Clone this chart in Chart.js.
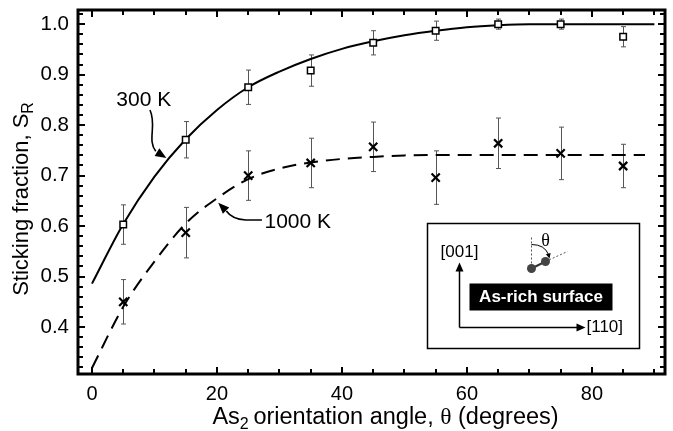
<!DOCTYPE html>
<html>
<head>
<meta charset="utf-8">
<script src="https://cdn.jsdelivr.net/npm/chart.js@4.4.1/dist/chart.umd.min.js"></script>
<style>
  html, body { margin: 0; padding: 0; background: #fff; }
  #wrap { width: 673px; height: 431px; }
</style>
</head>
<body>
<div id="wrap"><canvas id="grafica"></canvas></div>
<script>
// measured points (angle in degrees) with their error bars
const angles = [5, 15, 25, 35, 45, 55, 65, 75, 85];
const stick300 = [0.603, 0.771, 0.875, 0.908, 0.963, 0.987, 1.000, 1.000, 0.975];
const err300 = [0.039, 0.036, 0.034, 0.031, 0.024, 0.019, 0.010, 0.010, 0.020];
const stick1000 = [0.450, 0.587, 0.700, 0.725, 0.757, 0.696, 0.764, 0.744, 0.719];
const err1000 = [0.044, 0.050, 0.049, 0.049, 0.049, 0.053, 0.050, 0.052, 0.043];

// fitted curves
const fitAngles300 = [0, 5, 10, 15, 20, 25, 30, 35, 40, 45, 50, 55, 60, 65, 70, 75, 80, 85, 90];
const fit300 = [0.486, 0.604, 0.698, 0.772, 0.830, 0.875, 0.906, 0.931, 0.951, 0.966, 0.978, 0.987, 0.994, 0.998, 1.0, 1.0, 1.0, 1.0, 1.0];
const fitAngles1000 = [0, 5, 10, 15, 20, 25, 30, 35, 40, 45, 50, 55, 60, 65, 70, 75, 80, 85, 88.5];
const fit1000 = [0.319, 0.440, 0.530, 0.605, 0.655, 0.693, 0.714, 0.726, 0.733, 0.737, 0.740, 0.741, 0.741, 0.741, 0.741, 0.741, 0.741, 0.741, 0.741];

const xTickLabels = [0, 20, 40, 60, 80];
const yTickLabels = [0.4, 0.5, 0.6, 0.7, 0.8, 0.9, 1.0];

const FONT = '"Liberation Sans", Arial, Helvetica, sans-serif';

const pts = (xs, ys) => xs.map((x, i) => ({ x: x, y: ys[i] }));
const isYLabel = v => yTickLabels.some(t => Math.abs(t - v) < 1e-6);

function arrowHead(ctx, x, y, ang, len, half) {
  ctx.beginPath();
  ctx.moveTo(x, y);
  ctx.lineTo(x - len * Math.cos(ang) + half * Math.sin(ang), y - len * Math.sin(ang) - half * Math.cos(ang));
  ctx.lineTo(x - len * Math.cos(ang) - half * Math.sin(ang), y - len * Math.sin(ang) + half * Math.cos(ang));
  ctx.closePath();
  ctx.fill();
}

const decor = {
  id: 'decor',
  beforeDatasetsDraw(chart) {
    const ctx = chart.ctx, sx = chart.scales.x, sy = chart.scales.y;
    ctx.save();
    ctx.strokeStyle = '#555';
    ctx.lineWidth = 1;
    const bars = (vals, errs) => {
      angles.forEach((a, i) => {
        const x = Math.round(sx.getPixelForValue(a)) + 0.5;
        const t = sy.getPixelForValue(vals[i] + errs[i]);
        const b = sy.getPixelForValue(vals[i] - errs[i]);
        ctx.beginPath();
        ctx.moveTo(x, t); ctx.lineTo(x, b);
        ctx.moveTo(x - 2.5, t); ctx.lineTo(x + 2.5, t);
        ctx.moveTo(x - 2.5, b); ctx.lineTo(x + 2.5, b);
        ctx.stroke();
      });
    };
    bars(stick300, err300);
    bars(stick1000, err1000);
    ctx.restore();
  },
  afterDraw(chart) {
    const ctx = chart.ctx, sx = chart.scales.x, sy = chart.scales.y;
    const a = chart.chartArea;
    const px = v => sx.getPixelForValue(v);
    const py = v => sy.getPixelForValue(v);
    ctx.save();

    // frame with inward ticks on all four sides
    ctx.strokeStyle = '#000';
    ctx.lineWidth = 3;
    ctx.strokeRect(a.left, a.top, a.right - a.left, a.bottom - a.top);
    ctx.lineWidth = 2;
    ctx.beginPath();
    sx.ticks.forEach(t => {
      const x = Math.round(px(t.value));
      const len = xTickLabels.includes(t.value) ? 7 : 5;
      ctx.moveTo(x, a.bottom); ctx.lineTo(x, a.bottom - len);
      ctx.moveTo(x, a.top); ctx.lineTo(x, a.top + len);
    });
    sy.ticks.forEach(t => {
      const y = Math.round(py(t.value));
      const len = isYLabel(t.value) ? 7 : 5;
      ctx.moveTo(a.left, y); ctx.lineTo(a.left + len, y);
      ctx.moveTo(a.right, y); ctx.lineTo(a.right - len, y);
    });
    ctx.stroke();

    // curve labels with their pointers
    ctx.fillStyle = '#000';
    ctx.font = '21px ' + FONT;
    ctx.textBaseline = 'alphabetic';
    ctx.textAlign = 'left';
    ctx.fillText('300 K', px(3.9), py(0.838));
    ctx.fillText('1000 K', px(27.6), py(0.597));

    ctx.lineWidth = 1.6;
    ctx.beginPath();
    ctx.moveTo(px(9.28), py(0.830));
    ctx.bezierCurveTo(px(10.4), py(0.800), px(8.8), py(0.770), px(10.2), py(0.748));
    ctx.stroke();
    arrowHead(ctx, px(11.9), py(0.735), Math.atan2(py(0.735) - py(0.748), px(11.9) - px(10.2)), 11, 4.5);

    ctx.beginPath();
    ctx.moveTo(px(27.2), py(0.612));
    ctx.lineTo(px(24.6), py(0.612));
    ctx.quadraticCurveTo(px(22.4), py(0.614), px(21.5), py(0.630));
    ctx.stroke();
    arrowHead(ctx, px(20.2), py(0.646), Math.atan2(py(0.646) - py(0.630), px(20.2) - px(21.5)), 11, 4.5);

    // inset: surface orientation sketch
    const bx = Math.round(px(53.6)) + 0.5, by = Math.round(py(0.606)) + 0.5;
    const bw = Math.round(px(87.5) - px(53.6)), bh = Math.round(py(0.358) - py(0.606));
    ctx.fillStyle = '#fff';
    ctx.fillRect(bx, by, bw, bh);
    ctx.lineWidth = 1.5;
    ctx.strokeRect(bx, by, bw, bh);

    ctx.fillStyle = '#000';
    ctx.lineWidth = 1.5;
    ctx.beginPath();
    ctx.moveTo(bx + 32, by + 104); ctx.lineTo(bx + 32, by + 46);
    ctx.moveTo(bx + 32, by + 104); ctx.lineTo(bx + 150, by + 104);
    ctx.stroke();
    arrowHead(ctx, bx + 32, by + 39, -Math.PI / 2, 9, 4);
    arrowHead(ctx, bx + 158, by + 104, 0, 9, 4);

    ctx.font = '17px ' + FONT;
    ctx.textAlign = 'center';
    ctx.textBaseline = 'middle';
    ctx.fillText('[001]', bx + 32, by + 29);
    ctx.textAlign = 'left';
    ctx.fillText('[110]', bx + 159, by + 104);

    ctx.fillRect(bx + 42, by + 60, 143, 27);
    ctx.fillStyle = '#fff';
    ctx.font = 'bold 17px ' + FONT;
    ctx.textAlign = 'center';
    ctx.fillText('As-rich surface', bx + 113.5, by + 74);

    // As2 molecule and its angle
    ctx.strokeStyle = '#555';
    ctx.lineWidth = 1;
    ctx.setLineDash([2, 2]);
    ctx.beginPath();
    ctx.moveTo(bx + 104, by + 14); ctx.lineTo(bx + 104, by + 40);
    ctx.moveTo(bx + 118, by + 38); ctx.lineTo(bx + 140, by + 28);
    ctx.stroke();
    ctx.setLineDash([]);
    ctx.strokeStyle = '#333';
    ctx.lineWidth = 2;
    ctx.beginPath();
    ctx.moveTo(bx + 104, by + 45); ctx.lineTo(bx + 118, by + 38);
    ctx.stroke();
    ctx.fillStyle = '#444';
    ctx.beginPath(); ctx.arc(bx + 104, by + 45, 4.5, 0, Math.PI * 2); ctx.fill();
    ctx.beginPath(); ctx.arc(bx + 118, by + 38, 4.5, 0, Math.PI * 2); ctx.fill();
    ctx.strokeStyle = '#000';
    ctx.lineWidth = 1;
    ctx.beginPath();
    ctx.moveTo(bx + 104, by + 21);
    ctx.quadraticCurveTo(bx + 117, by + 21, bx + 121, by + 31);
    ctx.stroke();
    ctx.fillStyle = '#000';
    arrowHead(ctx, bx + 122, by + 35, Math.PI * 0.42, 5, 2.5);
    ctx.font = '18px "Liberation Serif", serif';
    ctx.textAlign = 'center';
    ctx.fillText('θ', bx + 118, by + 18);

    // axis titles
    ctx.fillStyle = '#000';
    ctx.textAlign = 'left';
    ctx.textBaseline = 'alphabetic';
    const big = '23.5px ' + FONT, small = '16px ' + FONT;
    const parts = [['As', big, 0], ['2', small, 5], ['\u2009', big, 0], ['orientation angle, ', big, 0],
                   ['θ', '23.5px "Liberation Serif", serif', 0], [' (degrees)', big, 0]];
    let w = 0;
    parts.forEach(p => { ctx.font = p[1]; w += ctx.measureText(p[0]).width; });
    let x = (a.left + a.right) / 2 + 14 - w / 2;
    const base = 424;
    parts.forEach(p => {
      ctx.font = p[1];
      ctx.fillText(p[0], x, base + p[2]);
      x += ctx.measureText(p[0]).width;
    });

    const ybig = '22px ' + FONT;
    ctx.translate(28, 199);
    ctx.rotate(-Math.PI / 2);
    const main = 'Sticking fraction, S';
    ctx.font = small;
    const sub = ctx.measureText('R').width;
    ctx.font = ybig;
    const mw = ctx.measureText(main).width;
    ctx.fillText(main, -(mw + sub) / 2, 0);
    ctx.font = small;
    ctx.fillText('R', -(mw + sub) / 2 + mw, 5);
    ctx.restore();
  }
};

new Chart(document.getElementById('grafica'), {
  type: 'scatter',
  data: {
    datasets: [
      {
        data: pts(angles, stick300),
        pointStyle: 'rect',
        radius: 4.6,
        borderWidth: 1.5,
        borderColor: '#000',
        backgroundColor: '#fff',
        order: 0
      },
      {
        data: pts(angles, stick1000),
        pointStyle: 'crossRot',
        radius: 5.8,
        borderWidth: 2.2,
        borderColor: '#000',
        order: 1
      },
      {
        data: pts(fitAngles300, fit300),
        showLine: true,
        cubicInterpolationMode: 'monotone',
        pointRadius: 0,
        borderWidth: 2,
        borderColor: '#000',
        order: 2
      },
      {
        data: pts(fitAngles1000, fit1000),
        showLine: true,
        cubicInterpolationMode: 'monotone',
        pointRadius: 0,
        borderWidth: 2,
        borderDash: [14, 8],
        borderColor: '#000',
        order: 3
      }
    ]
  },
  options: {
    responsive: true,
    maintainAspectRatio: false,
    animation: false,
    layout: { padding: { left: 0, right: 8, top: 10, bottom: 0 } },
    plugins: {
      legend: { display: false },
      tooltip: { enabled: false }
    },
    scales: {
      x: {
        type: 'linear',
        min: -2.24,
        max: 91.7,
        grid: { display: false, drawTicks: false },
        border: { display: false },
        ticks: {
          stepSize: 5,
          autoSkip: false,
          includeBounds: false,
          maxRotation: 0,
          padding: 8,
          color: '#000',
          font: { family: FONT, size: 20 },
          callback: v => (xTickLabels.includes(v) ? String(v) : '')
        },
        afterFit: s => { s.height = 57; s.paddingLeft = 0; s.paddingRight = 0; }
      },
      y: {
        type: 'linear',
        min: 0.307,
        max: 1.028,
        grid: { display: false, drawTicks: false },
        border: { display: false },
        ticks: {
          stepSize: 0.02,
          autoSkip: false,
          includeBounds: false,
          padding: 9,
          color: '#000',
          font: { family: FONT, size: 20.5 },
          callback: v => (isYLabel(v) ? v.toFixed(1) : '')
        },
        afterFit: s => { s.width = 78; s.paddingTop = 0; s.paddingBottom = 0; }
      }
    }
  },
  plugins: [decor]
});
</script>
</body>
</html>
